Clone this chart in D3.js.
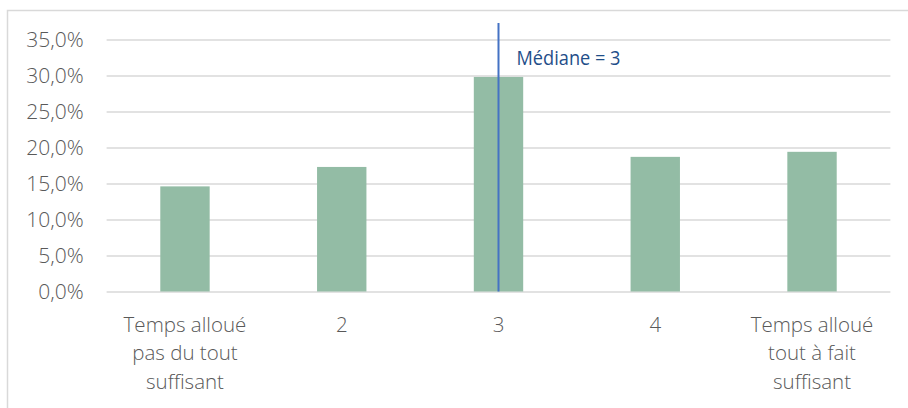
<!DOCTYPE html>
<html><head><meta charset="utf-8">
<script src="https://cdn.jsdelivr.net/npm/d3@7"></script>
<style>body{margin:0;background:#fff;} svg{display:block;}</style>
</head><body>
<svg id="c" width="908" height="408"></svg>
<script>
const categories = [["Temps alloué","pas du tout","suffisant"],["2"],["3"],["4"],["Temps alloué","tout à fait","suffisant"]];
const catKeys = ["c1","c2","c3","c4","c5"];
const values = [0.146, 0.173, 0.298, 0.187, 0.194];
const yTicks = [0, 0.05, 0.10, 0.15, 0.20, 0.25, 0.30, 0.35];
const medianIndex = 2;
const medianLabel = "Médiane = 3";

const svg = d3.select("#c");
const font = "'Open Sans',sans-serif";
svg.append("rect").attr("x",7.5).attr("y",10.5).attr("width",1000).attr("height",500)
  .attr("fill","none").attr("stroke","#d9d9d9").attr("stroke-width",1.5);

const x = d3.scaleBand().domain(catKeys).range([106.6, 890.4]).paddingInner(0.685).paddingOuter(0.3425);
const y = d3.scaleLinear().domain([0, 0.35]).range([291.5, 39.5]);

const fmt = d => d3.format(".1f")(d*100).replace(".", ",") + "%";

const yAxis = svg.append("g").attr("transform","translate(106.6,0)")
  .call(d3.axisLeft(y).tickValues(yTicks).tickSize(-(890.4-106.6)).tickFormat(fmt));
yAxis.select(".domain").remove();
yAxis.selectAll(".tick line").attr("stroke","#d9d9d9").attr("stroke-width",1.5);
yAxis.selectAll(".tick text").attr("x",-23).attr("fill","#595959")
  .style("font-family",font).style("font-size","21px").style("font-weight","300");

svg.append("g").selectAll("rect").data(values).join("rect")
  .attr("x",(d,i)=>x(catKeys[i])).attr("width",x.bandwidth())
  .attr("y",d=>y(d)).attr("height",d=>y(0)-y(d))
  .attr("fill","#93bca5");

const xAxis = svg.append("g").attr("transform","translate(0,291.5)")
  .call(d3.axisBottom(x).tickSize(0).tickFormat(""));
xAxis.select(".domain").remove();
xAxis.selectAll(".tick").each(function(k,i){
  const t = d3.select(this).append("text").attr("fill","#595959").attr("text-anchor","middle")
    .style("font-family",font).style("font-size","20.5px").style("font-weight","300");
  categories[i].forEach((line,j)=>{
    t.append("tspan").attr("x",0).attr("y",40 + j*28.5).text(line);
  });
});

const mx = x(catKeys[medianIndex]) + x.bandwidth()/2;
svg.append("line").attr("x1",mx).attr("x2",mx).attr("y1",23).attr("y2",y(0))
  .attr("stroke","#4472c4").attr("stroke-width",2);
svg.append("text").attr("x",mx+18).attr("y",65).text(medianLabel)
  .attr("textLength",104).attr("lengthAdjust","spacingAndGlyphs")
  .attr("fill","#1f4e89").style("font-family",font).style("font-size","20px").style("font-weight","500");
</script>
</body></html>
